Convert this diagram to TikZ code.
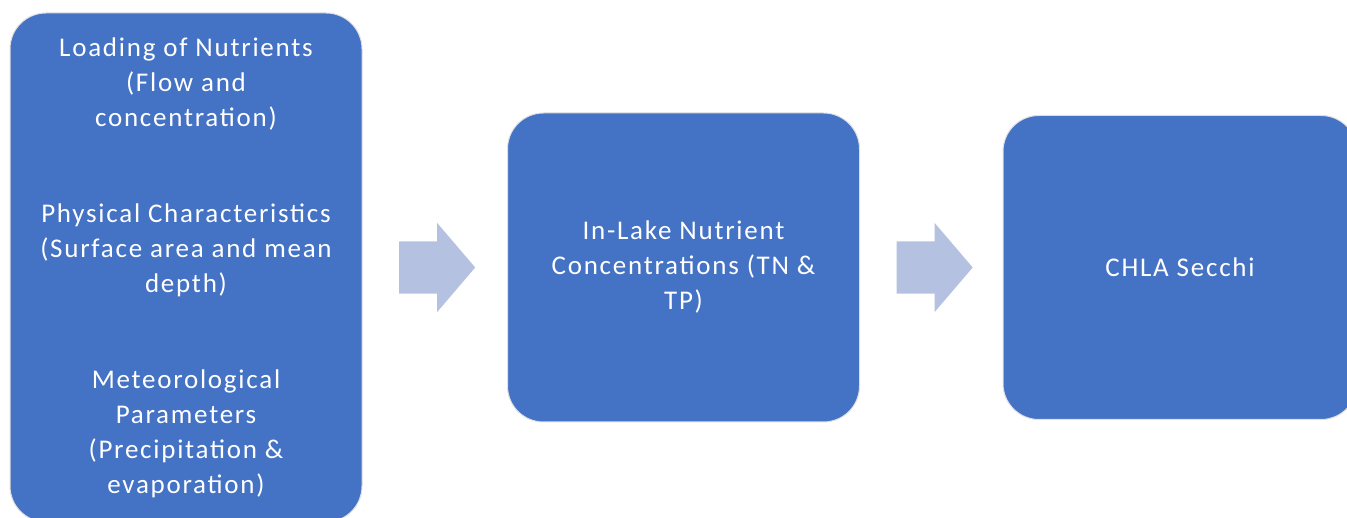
\documentclass[tikz,border=0pt]{standalone}
\usepackage{fontspec}
\setmainfont{Carlito}[LetterSpace=6.5]
\usetikzlibrary{shapes.arrows}
\definecolor{boxblue}{HTML}{4472C4}
\definecolor{arrowblue}{HTML}{B4C1E1}
\begin{document}
\begin{tikzpicture}[x=1pt, y=1pt, node distance=250pt]
  \tikzstyle{stage} = [rectangle, draw=gray!25, line width=1pt, fill=boxblue, text=white, align=center, rounded corners=36pt, minimum width=352pt, minimum height=309pt, font=\fontsize{27}{35}\selectfont]
  \tikzstyle{flow} = [single arrow, fill=arrowblue, draw=none, inner xsep=0pt, inner ysep=26pt, minimum height=76pt, single arrow head extend=18.5pt, single arrow tip angle=99]

  \useasboundingbox (0,0) rectangle (1347,518);

  \node [stage, minimum height=509pt] (inputs) at (186,250.5) {Loading of Nutrients\\(Flow and\\concentration)\\[61pt]Physical Characteristics\\(Surface area and mean\\depth)\\[61pt]Meteorological\\Parameters\\(Precipitation \&\\evaporation)};
  \node [flow, right of=inputs, node distance=240pt] (arrow1) {};
  \node [stage, right of=arrow1, node distance=257.5pt] (lake) {In-Lake Nutrient\\Concentrations (TN \&\\TP)};
  \node [flow, right of=lake, node distance=240pt] (arrow2) {};
  \node [stage, right of=arrow2, node distance=256.5pt, minimum width=354pt, minimum height=304pt] (chla) {CHLA Secchi};
\end{tikzpicture}
\end{document}
